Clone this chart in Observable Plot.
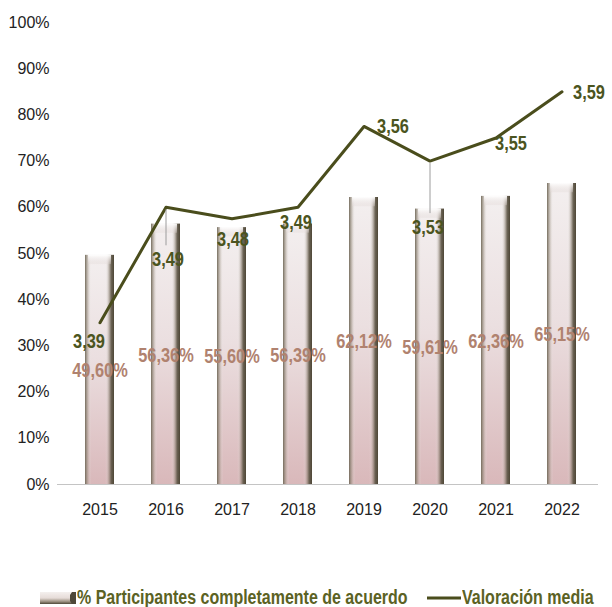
<!DOCTYPE html>
<html>
<head>
<meta charset="utf-8">
<script src="https://cdn.jsdelivr.net/npm/d3@7"></script>
<script src="https://cdn.jsdelivr.net/npm/@observablehq/plot@0.6"></script>
<style>
  body { margin: 0; background: #fff; font-family: "Liberation Sans", Arial, sans-serif; }
  #chart svg { display: block; }
  .legend { position: relative; height: 67px; font-family: "Liberation Sans", Arial, sans-serif; font-weight: bold; font-size: 19.5px; color: #5b6224; }
  .legend .sw { position: absolute; }
  .legend .txt { position: absolute; top: 46px; white-space: nowrap; transform: scaleX(0.82); transform-origin: 0 50%; line-height: 22px; }
</style>
</head>
<body>
<div id="chart"></div>
<div class="legend">
  <svg class="sw" style="left:40px; top:52px" width="36" height="12"><defs>
      <linearGradient id="lgBar" x1="0" y1="0" x2="0" y2="1">
        <stop offset="0" stop-color="#f4f0ee"/><stop offset="0.5" stop-color="#e6dcd8"/><stop offset="0.8" stop-color="#9a9080"/><stop offset="1" stop-color="#4e4838"/>
      </linearGradient></defs>
      <rect x="0" y="0" width="36" height="12" fill="url(#lgBar)"/><polygon points="32,0 36,0 36,12 32,12 30,9 30,3" fill="#4e4838"/>
  </svg>
  <span class="txt" id="lg1" style="left:77px"></span>
  <svg class="sw" style="left:427px; top:52px" width="34" height="12"><line x1="0" y1="6" x2="34" y2="6" stroke="#4a4d1c" stroke-width="3"/></svg>
  <span class="txt" id="lg2" style="left:462px"></span>
</div>
<script>
// ---- data ----
const years = ["2015", "2016", "2017", "2018", "2019", "2020", "2021", "2022"];
const pctAgree = [49.60, 56.36, 55.60, 56.39, 62.12, 59.61, 62.36, 65.15];
const valoracion = [3.39, 3.49, 3.48, 3.49, 3.56, 3.53, 3.55, 3.59];
const yTicks = [0, 10, 20, 30, 40, 50, 60, 70, 80, 90, 100];
const seriesNames = ["% Participantes completamente de acuerdo", "Valoración media"];

document.getElementById("lg1").textContent = seriesNames[0];
document.getElementById("lg2").textContent = seriesNames[1];

// secondary (hidden) scale for Valoración media mapped onto the % axis
const val2pct = v => (v - 3.25) * 250;

const fmtPct = v => v.toFixed(2).replace(".", ",") + "%";
const fmtVal = v => v.toFixed(2).replace(".", ",");

const table = years.map((y, i) => ({year: y, pct: pctAgree[i], val: valoracion[i]}));

// label placement for the line labels (offsets in px) and leader-line lengths
const lineLabelOffsets = [[-11, 19], [2, 52], [1, 21], [-2, 15], [29, 0], [-2, 66], [15, 6], [27, 1]];
const leaderLen = [0, 38, 0, 0, 0, 52, 0, 0];
const lineLabels = table.map((d, i) => ({...d, dx: lineLabelOffsets[i][0], dy: lineLabelOffsets[i][1], lead: leaderLen[i]}));
const leaders = lineLabels.filter(d => d.lead > 0);

const plot = Plot.plot({
  width: 612,
  height: 540,
  marginTop: 22,
  marginBottom: 56,
  marginLeft: 63,
  marginRight: 14,
  style: {fontFamily: "'Liberation Sans', Arial, sans-serif", fontSize: "16px", color: "#222"},
  x: {domain: years, paddingInner: 0.567, paddingOuter: 0.284, label: null, tickSize: 0, tickPadding: 19},
  y: {domain: [0, 100], ticks: yTicks, tickFormat: d => d + "%", label: null, tickSize: 0, tickPadding: 14},
  marks: [
    Plot.ruleY([0], {stroke: "#c4c4c4", strokeWidth: 1.2, insetLeft: -6}),
    Plot.barY(table, {x: "year", y: "pct", fill: "url(#barV)"}),
    Plot.barY(table, {x: "year", y: "pct", fill: "url(#barH)"}),
    Plot.barY(table, {x: "year", y1: d => d.pct - 2.0, y2: "pct", fill: "url(#barTop)", insetLeft: 3, insetRight: 3}),
    Plot.text(table, {x: "year", y: d => d.pct / 2, text: d => fmtPct(d.pct), fill: "#b0826f",
      fontWeight: "bold", fontSize: 20, dy: 1, className: "narrow"}),
    Plot.lineY(table, {x: "year", y: d => val2pct(d.val), stroke: "#4a4d1c", strokeWidth: 3}),
    Plot.link(leaders, {x1: "year", x2: "year", y1: d => val2pct(d.val), y2: d => val2pct(d.val),
      stroke: "#9c9c9c", strokeWidth: 1, className: "leader"}),
    ...lineLabels.map(d => Plot.text([d], {x: "year", y: dd => val2pct(dd.val), text: dd => fmtVal(dd.val),
      dx: d.dx, dy: d.dy, fill: "#4b5420", fontWeight: "bold", fontSize: 20, className: "narrow"}))
  ]
});

// leader lines hang below their points
d3.select(plot).selectAll(".leader path").each(function(_, j) {
  const d = leaders[j];
  const p = this.getAttribute("d");
  const m = /M([\d.\-]+),([\d.\-]+)/.exec(p);
  if (m) {
    const x = +m[1], y = +m[2];
    this.setAttribute("d", `M${x},${y + 2}L${x},${y + d.lead}`);
  }
});

// condensed lettering (Arial Narrow look)
d3.select(plot).selectAll(".narrow text").each(function() {
  const t = this.getAttribute("transform") || "";
  this.setAttribute("transform", t + " scale(0.82,1)");
});

// gradients for the cylinder-like bars
const defs = d3.select(plot).insert("defs", ":first-child");
const gv = defs.append("linearGradient").attr("id", "barV").attr("x1", 0).attr("y1", 0).attr("x2", 0).attr("y2", 1);
gv.append("stop").attr("offset", 0).attr("stop-color", "#f3efef");
gv.append("stop").attr("offset", 0.45).attr("stop-color", "#ebdfe0");
gv.append("stop").attr("offset", 1).attr("stop-color", "#d9b8ba");
const gh = defs.append("linearGradient").attr("id", "barH").attr("x1", 0).attr("y1", 0).attr("x2", 1).attr("y2", 0);
[[0, "#6e6656", 0.95], [0.1, "#9a9080", 0.45], [0.22, "#ffffff", 0.0], [0.7, "#ffffff", 0.0], [0.82, "#8a8070", 0.45], [0.9, "#5e5646", 0.9], [1, "#4d4636", 1]]
  .forEach(([o, c, a]) => gh.append("stop").attr("offset", o).attr("stop-color", c).attr("stop-opacity", a));
const gt = defs.append("linearGradient").attr("id", "barTop").attr("x1", 0).attr("y1", 0).attr("x2", 0).attr("y2", 1);
gt.append("stop").attr("offset", 0).attr("stop-color", "#ffffff").attr("stop-opacity", 0.95);
gt.append("stop").attr("offset", 1).attr("stop-color", "#e0d6d4").attr("stop-opacity", 0.3);

document.getElementById("chart").appendChild(plot);
</script>
</body>
</html>
